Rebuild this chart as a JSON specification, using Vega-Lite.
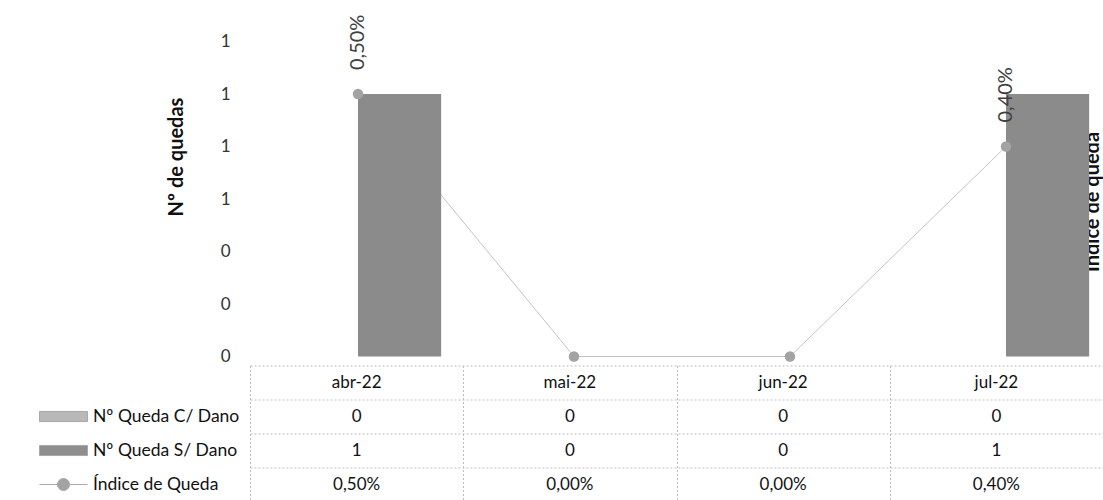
{
  "$schema": "https://vega.github.io/schema/vega-lite/v6.json",
  "background": "white",
  "padding": {"left": 39, "top": 14.5, "right": 0, "bottom": 0},
  "config": {
    "font": "Lato",
    "view": {"stroke": null},
    "axis": {"labelFont": "Lato", "titleFont": "Lato"},
    "legend": {"labelFont": "Lato"}
  },
  "data": {"values": [
    {"mes": "abr-22", "C": 0, "S": 1, "I": 0.005},
    {"mes": "mai-22", "C": 0, "S": 0, "I": 0},
    {"mes": "jun-22", "C": 0, "S": 0, "I": 0},
    {"mes": "jul-22", "C": 0, "S": 1, "I": 0.004}
  ]},
  "spacing": 1,
  "resolve": {
    "scale": {"x": "independent", "y": "independent", "color": "independent", "fill": "independent", "shape": "independent"},
    "legend": {"fill": "independent", "shape": "independent", "color": "independent"}
  },
  "vconcat": [
    {
      "width": 864,
      "height": 315,
      "resolve": {"scale": {"y": "independent"}},
      "layer": [
        {
          "mark": {"type": "line", "color": "#c4c4c4", "strokeWidth": 1},
          "encoding": {
            "x": {"field": "mes", "type": "nominal", "sort": ["abr-22", "mai-22", "jun-22", "jul-22"], "scale": {"paddingInner": 0.23, "paddingOuter": 0.115}, "axis": null},
            "y": {"field": "I", "type": "quantitative", "scale": {"domain": [0, 0.006]},
              "axis": {"orient": "right", "labels": false, "ticks": false, "domain": false, "grid": false,
                "title": "Índice de queda", "titleAngle": 270, "titleFontSize": 20, "titleFontWeight": "bold", "titleColor": "#111",
                "titleBaseline": "middle", "titleX": -22, "titleY": 160}}
          }
        },
        {
          "transform": [{"fold": ["C", "S"], "as": ["serie", "n"]}],
          "mark": {"type": "bar"},
          "encoding": {
            "x": {"field": "mes", "type": "nominal", "sort": ["abr-22", "mai-22", "jun-22", "jul-22"], "scale": {"paddingInner": 0.23, "paddingOuter": 0.115}, "axis": null},
            "xOffset": {"field": "serie", "type": "nominal", "sort": ["C", "S"]},
            "y": {"field": "n", "type": "quantitative", "scale": {"domain": [0, 1.2]},
              "axis": {"orient": "left", "values": [0, 0.2, 0.4, 0.6, 0.8, 1, 1.2], "format": ".0f", "domain": false, "ticks": false, "grid": false,
                "labelPadding": 20, "labelFontSize": 17, "labelColor": "#333",
                "title": "Nº de quedas", "titleFontSize": 20, "titleFontWeight": "bold", "titleColor": "#111", "titlePadding": 34, "titleY": 115}},
            "color": {"field": "serie", "type": "nominal", "scale": {"domain": ["C", "S"], "range": ["#b5b5b5", "#8b8b8b"]}, "legend": null}
          }
        },
        {
          "mark": {"type": "point", "filled": true, "color": "#a3a3a3", "size": 110, "opacity": 1},
          "encoding": {
            "x": {"field": "mes", "type": "nominal", "sort": ["abr-22", "mai-22", "jun-22", "jul-22"], "scale": {"paddingInner": 0.23, "paddingOuter": 0.115}, "axis": null},
            "y": {"field": "I", "type": "quantitative", "scale": {"domain": [0, 0.006]}, "axis": null}
          }
        },
        {
          "transform": [
            {"filter": "datum.I > 0"},
            {"calculate": "replace(format(datum.I, '.2%'), '.', ',')", "as": "lbl"}
          ],
          "mark": {"type": "text", "angle": 270, "align": "left", "baseline": "middle", "dx": 24, "fontSize": 20, "color": "#404040"},
          "encoding": {
            "x": {"field": "mes", "type": "nominal", "sort": ["abr-22", "mai-22", "jun-22", "jul-22"], "scale": {"paddingInner": 0.23, "paddingOuter": 0.115}, "axis": null},
            "y": {"field": "I", "type": "quantitative", "scale": {"domain": [0, 0.006]}, "axis": null},
            "text": {"field": "lbl"}
          }
        }
      ]
    },
    {
      "width": 853,
      "height": 136,
      "layer": [
        {
          "mark": {"type": "text", "fontSize": 17, "color": "#111"},
          "encoding": {
            "x": {"field": "mes", "type": "nominal", "sort": ["abr-22", "mai-22", "jun-22", "jul-22"], "scale": {"paddingInner": 0, "paddingOuter": 0},
              "axis": {"orient": "top", "labels": false, "ticks": false, "domain": false, "grid": true, "tickBand": "extent", "gridColor": "#bdbdbd", "gridDash": [2, 2], "title": null}},
            "y": {"datum": "hdr", "type": "nominal", "scale": {"domain": ["hdr", "C", "S", "I"], "paddingInner": 0, "paddingOuter": 0},
              "axis": {"labels": false, "ticks": false, "domain": false, "grid": true, "tickBand": "extent", "gridColor": "#bdbdbd", "gridDash": [2, 2], "title": null, "minExtent": 0}},
            "text": {"field": "mes"}
          }
        },
        {
          "transform": [
            {"fold": ["C", "S", "I"], "as": ["row", "v"]},
            {"calculate": "datum.row === 'I' ? replace(format(datum.v, '.2%'), '.', ',') : format(datum.v, 'd')", "as": "txt"}
          ],
          "mark": {"type": "text", "fontSize": 17, "color": "#111"},
          "encoding": {
            "x": {"field": "mes", "type": "nominal", "sort": ["abr-22", "mai-22", "jun-22", "jul-22"]},
            "y": {"field": "row", "type": "nominal"},
            "text": {"field": "txt"}
          }
        },
        {
          "transform": [{"fold": ["C", "S", "I"], "as": ["row", "v"]}],
          "mark": {"type": "point", "filled": true, "opacity": 0},
          "encoding": {
            "x": {"field": "mes", "type": "nominal", "sort": ["abr-22", "mai-22", "jun-22", "jul-22"]},
            "y": {"field": "row", "type": "nominal"},
            "fill": {"field": "row", "type": "nominal",
              "scale": {"domain": ["hdr", "C", "S", "I"], "range": ["transparent", "#b8b8b8", "#8e8e8e", "#a3a3a3"]},
              "legend": {"title": null, "orient": "left", "offset": 10, "symbolSize": 2304, "labelFontSize": 17.5, "labelColor": "#111", "labelOffset": 5, "rowPadding": 0, "clipHeight": 34, "padding": 0,
                "labelExpr": "datum.label === 'C' ? 'Nº Queda C/ Dano' : datum.label === 'S' ? 'Nº Queda S/ Dano' : datum.label === 'I' ? 'Índice de Queda' : ''",
                "encode": {"symbols": {"update": {"opacity": {"value": 1}, "stroke": {"value": "#a8a8a8"}, "strokeWidth": {"value": 1}}}}}},
            "shape": {"field": "row", "type": "nominal",
              "scale": {"domain": ["hdr", "C", "S", "I"], "range": ["M0,0", "M-1,-0.21H1V0.21H-1Z", "M-1,-0.21H1V0.21H-1Z", "M-1,0H-0.25M0.25,0H1M-0.25,0A0.25,0.25,0,1,0,0.25,0A0.25,0.25,0,1,0,-0.25,0Z"]},
              "legend": {"title": null, "orient": "left", "offset": 10, "symbolSize": 2304, "labelFontSize": 17.5, "labelColor": "#111", "labelOffset": 5, "rowPadding": 0, "clipHeight": 34, "padding": 0,
                "labelExpr": "datum.label === 'C' ? 'Nº Queda C/ Dano' : datum.label === 'S' ? 'Nº Queda S/ Dano' : datum.label === 'I' ? 'Índice de Queda' : ''",
                "encode": {"symbols": {"update": {"opacity": {"value": 1}, "stroke": {"value": "#a8a8a8"}, "strokeWidth": {"value": 1}}}}}}
          }
        }
      ]
    }
  ]
}
